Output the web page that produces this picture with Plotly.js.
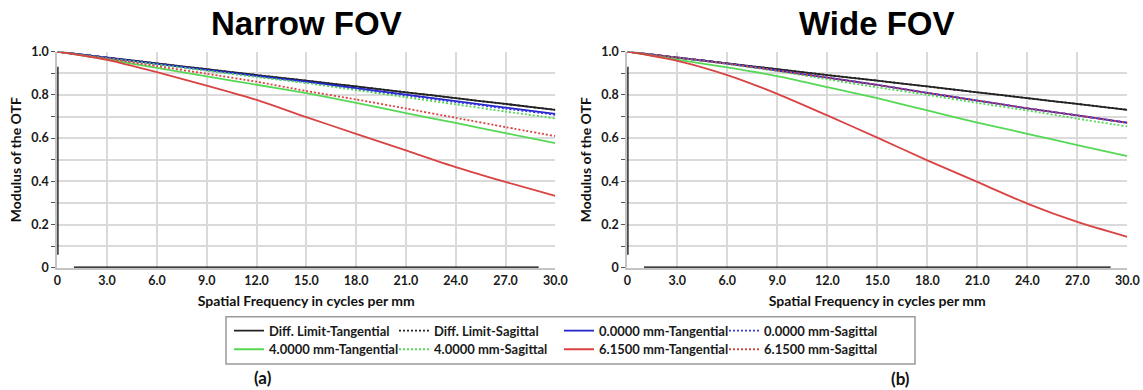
<!DOCTYPE html>
<html>
<head>
<meta charset="utf-8">
<script src="https://cdn.plot.ly/plotly-3.0.1.min.js"></script>
<style>
  html, body { margin: 0; padding: 0; background: #ffffff; }
  #chart { width: 1143px; height: 390px; }
</style>
</head>
<body>
<div id="chart"></div>
<script>
// ---- Data ----
const freq = [0, 3, 6, 9, 12, 15, 18, 21, 24, 27, 30];
const xTickVals = [0, 3, 6, 9, 12, 15, 18, 21, 24, 27, 30];
const xTickText = ['0', '3.0', '6.0', '9.0', '12.0', '15.0', '18.0', '21.0', '24.0', '27.0', '30.0'];
const yTickVals = [0, 0.1, 0.2, 0.3, 0.4, 0.5, 0.6, 0.7, 0.8, 0.9, 1.0];
const yTickText = ['0', '', '0.2', '', '0.4', '', '0.6', '', '0.8', '', '1.0'];

const seriesNames = [
  'Diff. Limit-Tangential', 'Diff. Limit-Sagittal',
  '0.0000 mm-Tangential', '0.0000 mm-Sagittal',
  '4.0000 mm-Tangential', '4.0000 mm-Sagittal',
  '6.1500 mm-Tangential', '6.1500 mm-Sagittal'
];

// Narrow FOV
const narrowDiffT = [1, 0.973, 0.946, 0.919, 0.892, 0.866, 0.839, 0.812, 0.785, 0.758, 0.731];
const narrowDiffS = [1, 0.973, 0.946, 0.919, 0.892, 0.866, 0.839, 0.812, 0.785, 0.758, 0.731];
const narrow0T    = [1, 0.972, 0.944, 0.916, 0.888, 0.861, 0.831, 0.801, 0.771, 0.741, 0.712];
const narrow0S    = [1, 0.971, 0.942, 0.913, 0.885, 0.857, 0.827, 0.797, 0.767, 0.737, 0.708];
const narrow4T    = [1, 0.965, 0.925, 0.886, 0.847, 0.808, 0.763, 0.716, 0.670, 0.623, 0.577];
const narrow4S    = [1, 0.970, 0.941, 0.912, 0.883, 0.855, 0.822, 0.789, 0.756, 0.723, 0.691];
const narrow615T  = [1, 0.962, 0.905, 0.843, 0.777, 0.697, 0.620, 0.543, 0.466, 0.397, 0.332];
const narrow615S  = [1, 0.968, 0.933, 0.898, 0.861, 0.818, 0.779, 0.737, 0.694, 0.651, 0.609];

// Wide FOV
const wideDiffT = [1, 0.973, 0.946, 0.919, 0.892, 0.866, 0.839, 0.812, 0.785, 0.758, 0.731];
const wideDiffS = [1, 0.973, 0.946, 0.919, 0.892, 0.866, 0.839, 0.812, 0.785, 0.758, 0.731];
const wide0T    = [1, 0.973, 0.945, 0.913, 0.880, 0.846, 0.809, 0.774, 0.738, 0.705, 0.671];
const wide0S    = [1, 0.973, 0.945, 0.913, 0.880, 0.846, 0.809, 0.774, 0.738, 0.705, 0.671];
const wide4T    = [1, 0.963, 0.927, 0.887, 0.836, 0.785, 0.728, 0.672, 0.620, 0.568, 0.516];
const wide4S    = [1, 0.972, 0.943, 0.910, 0.872, 0.835, 0.800, 0.763, 0.728, 0.690, 0.654];
const wide615T  = [1, 0.958, 0.892, 0.805, 0.705, 0.602, 0.497, 0.397, 0.297, 0.212, 0.143];
const wide615S  = [1, 0.973, 0.945, 0.913, 0.880, 0.846, 0.809, 0.774, 0.738, 0.705, 0.671];

// ---- Styles ----
const colors = ['#222222', '#222222', '#2323c8', '#3a3ae0', '#55d855', '#55d855', '#d94343', '#d94343'];
const dashes = ['solid', '2px,2px', 'solid', '2px,2px', 'solid', '2px,2px', 'solid', '2px,2px'];
const legendOf = ['legend', 'legend', 'legend', 'legend', 'legend2', 'legend2', 'legend2', 'legend2'];

const narrowSets = [narrowDiffT, narrowDiffS, narrow0T, narrow0S, narrow4T, narrow4S, narrow615T, narrow615S];
const wideSets = [wideDiffT, wideDiffS, wide0T, wide0S, wide4T, wide4S, wide615T, wide615S];

const traces = [];
narrowSets.forEach((ys, i) => {
  traces.push({
    type: 'scatter', mode: 'lines', x: freq, y: ys, name: seriesNames[i],
    xaxis: 'x', yaxis: 'y', legend: legendOf[i], showlegend: true,
    line: { color: colors[i], width: 1.8, dash: dashes[i], shape: 'spline', smoothing: 0.6 },
    hoverinfo: 'skip'
  });
});
wideSets.forEach((ys, i) => {
  traces.push({
    type: 'scatter', mode: 'lines', x: freq, y: ys, name: seriesNames[i],
    xaxis: 'x2', yaxis: 'y2', showlegend: false,
    line: { color: colors[i], width: 1.8, dash: dashes[i], shape: 'spline', smoothing: 0.6 },
    hoverinfo: 'skip'
  });
});

const W = 1143, H = 390;
const px = v => v / W;
const py = v => 1 - v / H;

const tickFont = { family: 'Lato, "Open Sans", sans-serif', size: 12.5, color: '#1a1a1a', weight: 'bold' };
const titleFont = { family: 'Lato, "Open Sans", sans-serif', size: 14, color: '#111', weight: 'bold' };

function xAxis(domain, anchor) {
  return {
    domain: domain, anchor: anchor, range: [0, 30], fixedrange: true,
    tickmode: 'array', tickvals: xTickVals, ticktext: xTickText,
    showgrid: true, gridcolor: '#dadada', gridwidth: 2,
    showline: true, linecolor: '#c4c4c4', linewidth: 2,
    zeroline: false, ticks: '', tickfont: tickFont, automargin: false,
    title: { text: 'Spatial Frequency in cycles per mm', font: titleFont, standoff: 9 }
  };
}
function yAxis(domain, anchor) {
  return {
    domain: domain, anchor: anchor, range: [0, 1], fixedrange: true,
    tickmode: 'array', tickvals: yTickVals, ticktext: yTickText,
    showgrid: true, gridcolor: '#dadada', gridwidth: 2,
    showline: true, linecolor: '#c4c4c4', linewidth: 2,
    zeroline: false, ticks: 'outside', ticklen: 4, tickwidth: 1, tickcolor: '#555',
    tickfont: tickFont, automargin: false,
    title: { text: 'Modulus of the OTF', font: titleFont, standoff: 6 }
  };
}

const yDom = [py(267.7), py(51.7)];
const legendFont = { family: 'Lato, "Open Sans", sans-serif', size: 13, color: '#1a1a1a', weight: 'bold' };

const layout = {
  width: W, height: H,
  margin: { l: 0, r: 0, t: 0, b: 0 },
  paper_bgcolor: '#ffffff', plot_bgcolor: '#ffffff',
  xaxis: xAxis([px(57.3), px(555.3)], 'y'),
  yaxis: yAxis(yDom, 'x'),
  xaxis2: xAxis([px(627.3), px(1127.3)], 'y2'),
  yaxis2: yAxis(yDom, 'x2'),
  legend: {
    orientation: 'h', x: px(229), xanchor: 'left', y: py(330.7), yanchor: 'middle',
    entrywidth: 120, itemwidth: 30, font: legendFont, bgcolor: 'rgba(0,0,0,0)', borderwidth: 0,
    traceorder: 'normal'
  },
  legend2: {
    orientation: 'h', x: px(229), xanchor: 'left', y: py(349.3), yanchor: 'middle',
    entrywidth: 120, itemwidth: 30, font: legendFont, bgcolor: 'rgba(0,0,0,0)', borderwidth: 0,
    traceorder: 'normal'
  },
  annotations: [
    { text: 'Narrow FOV', xref: 'paper', yref: 'paper', x: px(306.3), y: py(23), xanchor: 'center', yanchor: 'middle',
      showarrow: false, font: { family: '"Liberation Sans", Arial, sans-serif', size: 33, color: '#000', weight: 'bold' } },
    { text: 'Wide FOV', xref: 'paper', yref: 'paper', x: px(877.3), y: py(23), xanchor: 'center', yanchor: 'middle',
      showarrow: false, font: { family: '"Liberation Sans", Arial, sans-serif', size: 33, color: '#000', weight: 'bold' } },
    { text: '(a)', xref: 'paper', yref: 'paper', x: px(263), y: py(377), xanchor: 'center', yanchor: 'middle',
      showarrow: false, font: { family: 'Lato, sans-serif', size: 17, color: '#111', weight: 'bold' } },
    { text: '(b)', xref: 'paper', yref: 'paper', x: px(900), y: py(378), xanchor: 'center', yanchor: 'middle',
      showarrow: false, font: { family: 'Lato, sans-serif', size: 17, color: '#111', weight: 'bold' } }
  ],
  shapes: [
    // legend frame
    { type: 'rect', xref: 'paper', yref: 'paper', x0: px(226), x1: px(915), y0: py(364), y1: py(316.7),
      line: { color: '#9a9a9a', width: 1.5 }, fillcolor: 'rgba(0,0,0,0)' },
    // dark axis segments seen in the reference
    { type: 'line', xref: 'x', yref: 'y', x0: 0, x1: 0, y0: 0.06, y1: 0.93, line: { color: '#000', width: 2.5 }, layer: 'above' },
    { type: 'line', xref: 'x', yref: 'y', x0: 1, x1: 29, y0: 0, y1: 0, line: { color: '#000', width: 2.5 }, layer: 'above' },
    { type: 'line', xref: 'x2', yref: 'y2', x0: 0, x1: 0, y0: 0.06, y1: 0.93, line: { color: '#000', width: 2.5 }, layer: 'above' },
    { type: 'line', xref: 'x2', yref: 'y2', x0: 1, x1: 29, y0: 0, y1: 0, line: { color: '#000', width: 2.5 }, layer: 'above' }
  ],
  showlegend: true,
  hovermode: false
};

Plotly.newPlot('chart', traces, layout, { staticPlot: true, displayModeBar: false });
</script>
</body>
</html>
